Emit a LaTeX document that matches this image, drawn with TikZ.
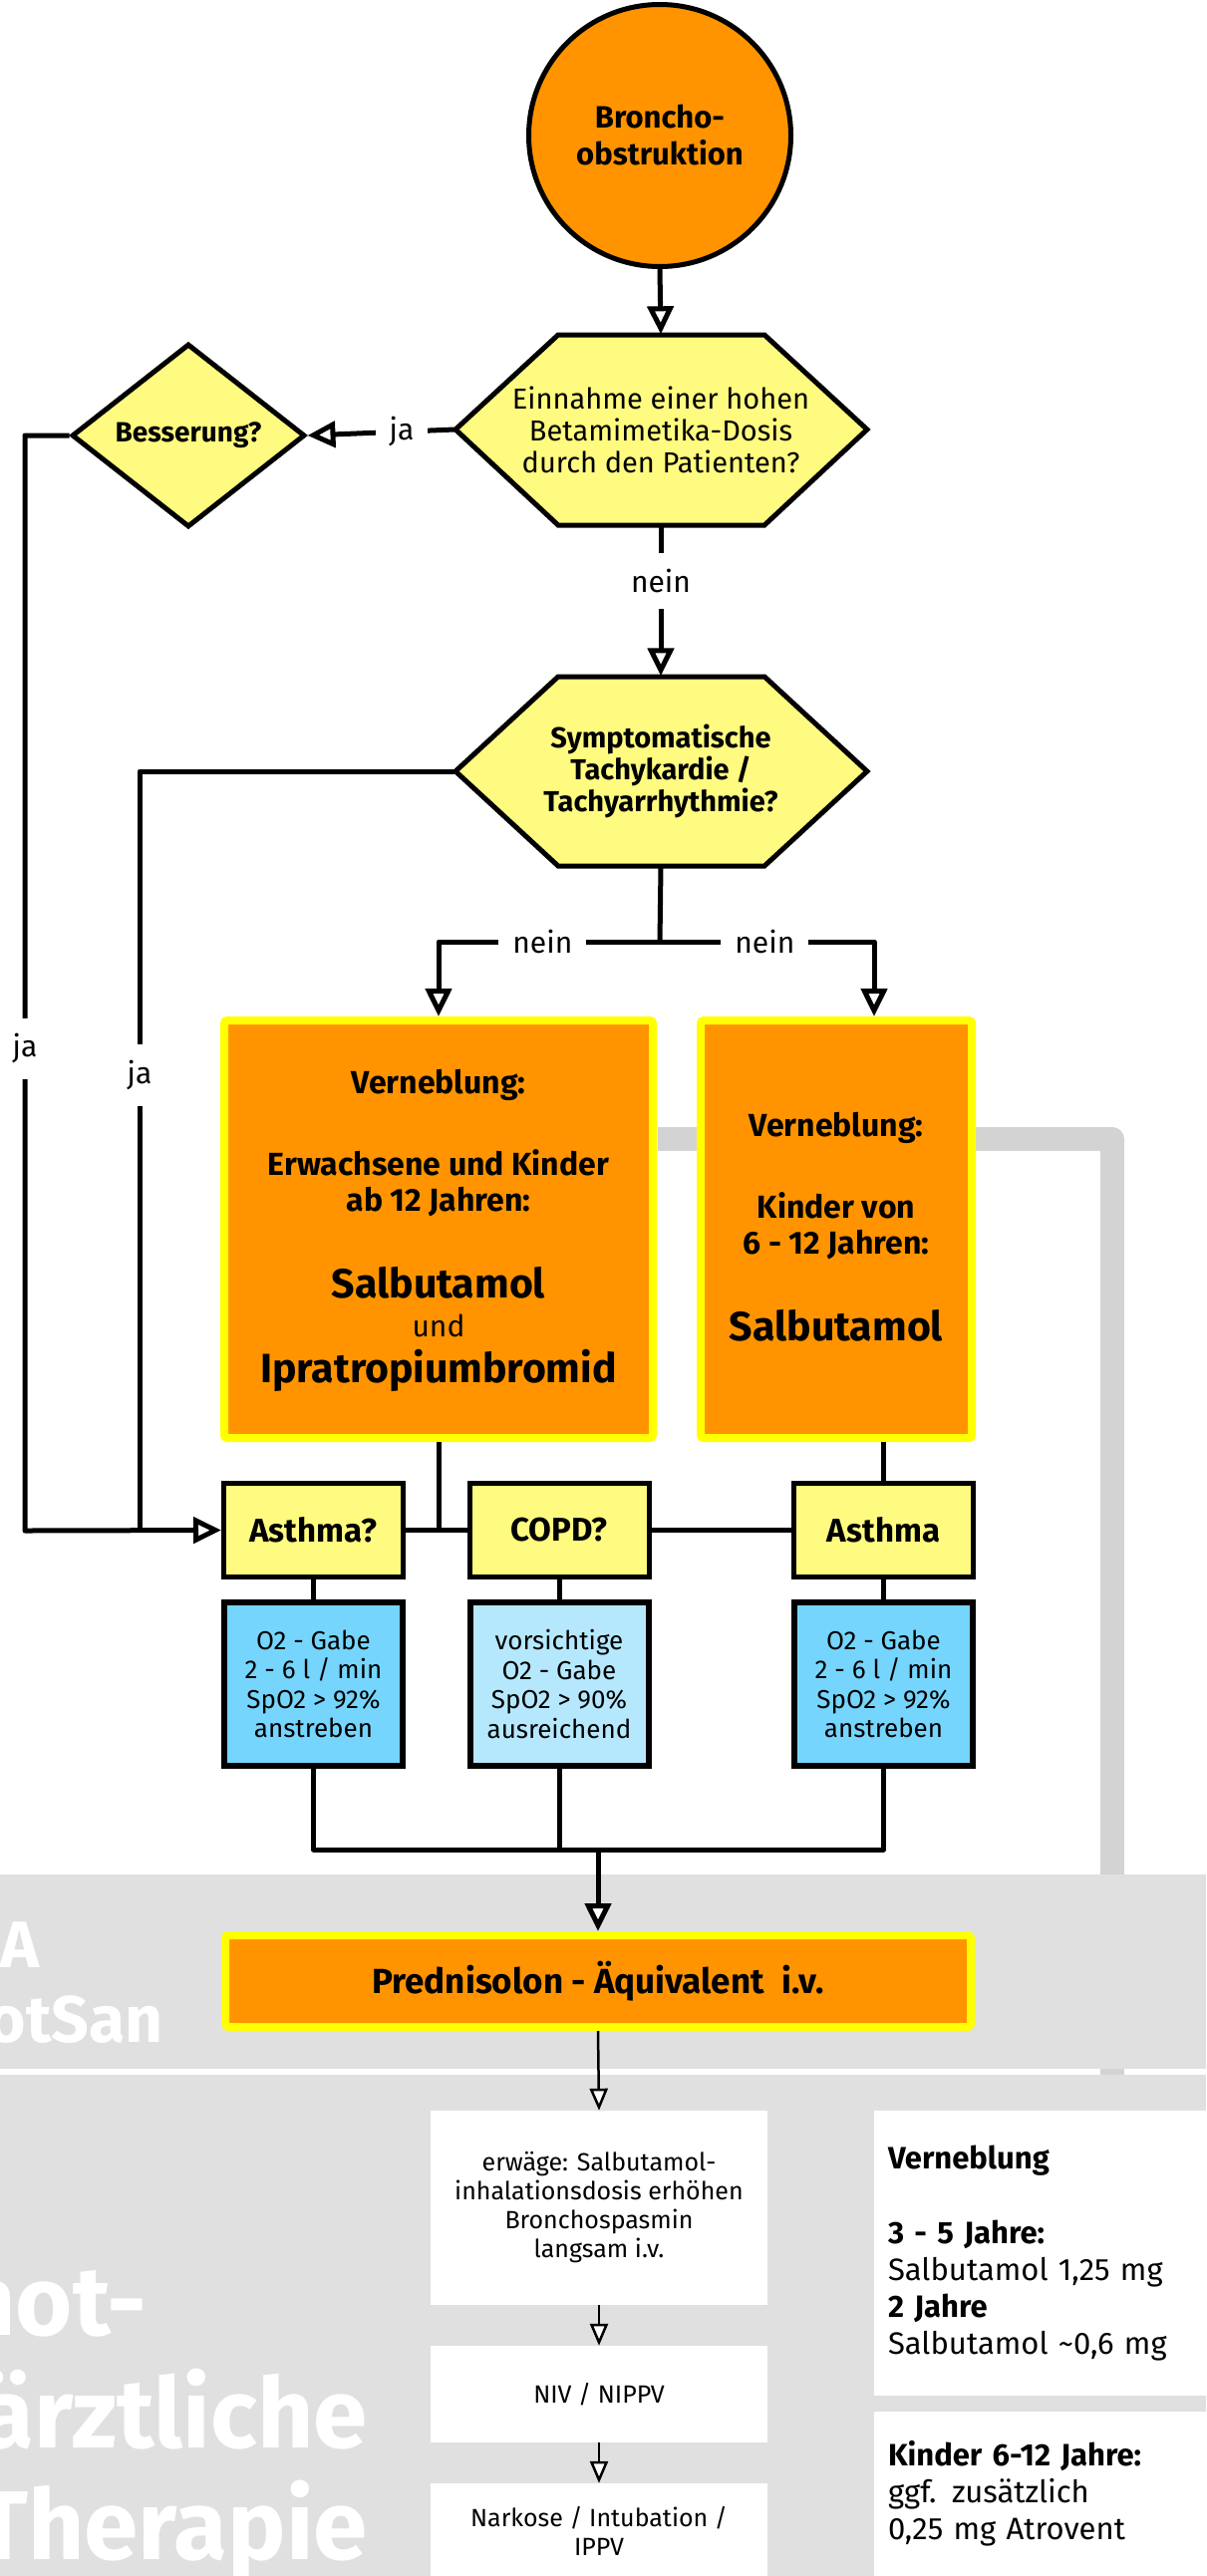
\documentclass[tikz,border=0pt]{standalone}
\usepackage{fontspec}
\setmainfont{Fira Sans}
\usetikzlibrary{arrows.meta,shapes.geometric}

\definecolor{bronchoorange}{HTML}{FF9400}
\definecolor{decisionyellow}{HTML}{FFFB80}
\definecolor{frameyellow}{HTML}{FFFF00}
\definecolor{oxygenblue}{HTML}{75D5FD}
\definecolor{oxygenlight}{HTML}{B5E8FD}
\definecolor{bandgray}{HTML}{E0E0E0}
\definecolor{railgray}{HTML}{D3D3D3}

\newcommand{\fsz}[2]{\fontsize{#1}{#2}\selectfont}

\tikzset{
  flow/.style={draw=black, line width=5pt, line join=round},
  flowarrow/.style={flow, -{Triangle[length=28pt,width=26pt,fill=white]}},
  thinarrow/.style={draw=black, line width=2.5pt, -{Triangle[length=22pt,width=18pt,fill=white]}},
  lbl/.style={fill=white, inner xsep=14pt, inner ysep=16pt, font=\fsz{30}{36}},
  hexshape/.style={draw=black, fill=decisionyellow, line width=5pt, line join=miter},
  hextext/.style={minimum width=413pt, minimum height=191pt, align=center, inner sep=0pt},
  orangebox/.style={draw=frameyellow, fill=bronchoorange, line width=8pt, rounded corners=3pt, inner sep=0pt},
  yellowbox/.style={draw=black, fill=decisionyellow, line width=5pt, minimum width=180pt, minimum height=94pt, inner sep=0pt, font=\bfseries\fsz{33}{38}},
  bluebox/.style={draw=black, fill=oxygenblue, line width=6pt, minimum width=179pt, minimum height=164pt, inner sep=0pt, align=center, font=\fsz{26}{29.5}},
  whitebox/.style={fill=white, minimum width=338pt, inner sep=0pt, align=center, font=\fsz{25}{29}},
  notebox/.style={fill=white, minimum width=338pt, text width=310pt, inner xsep=14pt, inner ysep=0pt, align=left, font=\fsz{31}{37}},
  bandtext/.style={text=white, font=\bfseries\fsz{#1}{#1}, anchor=base east, inner sep=0pt},
}

\begin{document}
\begin{tikzpicture}[x=1pt, y=-1pt]
  \useasboundingbox (0,0) rectangle (1210,2585);
  \clip (0,0) rectangle (1210,2585);

  % gray rail behind the boxes and bands
  \draw[railgray, line width=24pt, line join=round] (660,1143) -- (1116,1143) -- (1116,2090);

  % background bands
  \fill[bandgray] (0,1881) rectangle (1210,2076);
  \fill[bandgray] (0,2082) rectangle (1210,2585);
  \node[bandtext=66] (bandA) at (40,1974) {A};
  \node[bandtext=66] (bandB) at (164,2049) {otSan};
  \node[bandtext=98] (bandC) at (147,2343) {not-};
  \node[bandtext=98] (bandD) at (369,2456) {ärztliche};
  \node[bandtext=98] (bandE) at (369,2568) {Therapie};

  % start
  \node[circle, draw=black, fill=bronchoorange, line width=5pt, minimum size=263pt, inner sep=0pt,
        align=center, font=\bfseries\fsz{31}{37}] (start) at (662,136) {Broncho-\\obstruktion};

  % decisions
  \draw[hexshape] (457,431) -- (560,336) -- (767,336) -- (870,431) -- (767,527) -- (560,527) -- cycle;
  \node[hextext, font=\fsz{29}{32}] (einnahme) at (663,431) {Einnahme einer hohen\\Betamimetika-Dosis\\durch den Patienten?};
  \node[diamond, draw=black, fill=decisionyellow, line width=5pt, minimum width=234pt, minimum height=184pt,
        inner sep=0pt, font=\bfseries\fsz{28}{34}] (besserung) at (189,437) {Besserung?};
  \draw[hexshape] (457,774) -- (560,679) -- (767,679) -- (870,774) -- (767,869) -- (560,869) -- cycle;
  \node[hextext, font=\bfseries\fsz{29}{32}] (symptom) at (663,774) {Symptomatische\\Tachykardie /\\Tachyarrhythmie?};

  % nebulisation
  \node[orangebox, minimum width=430pt, minimum height=419pt] (adult) at (440,1233.5) {};
  \node[align=center, font=\bfseries\fsz{32}{36}] (adulttext) at (440,1235)
    {Verneblung:\\[46pt] Erwachsene und Kinder\\ab 12 Jahren:\\[50pt]
     {\fsz{41}{41}Salbutamol}\\[3pt] {\mdseries\fsz{30}{30}und}\\[10pt] {\fsz{41}{41}Ipratropiumbromid}};
  \node[orangebox, minimum width=272pt, minimum height=419pt] (child) at (839,1233.5) {};
  \node[align=center, font=\bfseries\fsz{32}{36}] (childtext) at (839,1231)
    {Verneblung:\\[46pt] Kinder von\\6 - 12 Jahren:\\[49pt] {\fsz{41}{41}Salbutamol}};

  % diagnosis and oxygen
  \node[yellowbox] (asthmaq) at (314.5,1535.5) {Asthma?};
  \node[yellowbox] (copd) at (561,1535.5) {COPD?};
  \node[yellowbox] (asthma) at (886.5,1535.5) {Asthma};
  \node[bluebox] (o2a) at (314.5,1690) {O2 - Gabe\\2 - 6 l / min\\SpO2 > 92\%\\anstreben};
  \node[bluebox, fill=oxygenlight] (o2b) at (561,1690) {vorsichtige\\O2 - Gabe\\SpO2 > 90\%\\ausreichend};
  \node[bluebox] (o2c) at (886.5,1690) {O2 - Gabe\\2 - 6 l / min\\SpO2 > 92\%\\anstreben};

  \node[orangebox, minimum width=748pt, minimum height=92pt, font=\bfseries\fsz{35}{40}] (pred) at (600,1988)
    {Prednisolon - Äquivalent\hspace{18pt}i.v.};

  % emergency physician
  \node[whitebox, minimum height=195pt] (w1) at (601,2215.5) {erwäge: Salbutamol-\\inhalationsdosis erhöhen\\Bronchospasmin\\langsam i.v.};
  \node[whitebox, minimum height=97pt] (w2) at (601,2402.5) {NIV / NIPPV};
  \node[whitebox, minimum height=96pt] (w3) at (601,2540) {Narkose / Intubation /\\IPPV};
  \node[notebox, minimum height=286pt] (dosage) at (1046,2261)
    {\textbf{Verneblung}\\[38pt] \textbf{3 - 5 Jahre:}\\Salbutamol 1,25 mg\\\textbf{2 Jahre}\\Salbutamol \textasciitilde0,6 mg};
  \node[notebox, minimum height=165pt] (atrovent) at (1046,2502.5)
    {\textbf{Kinder 6-12 Jahre:}\\ggf. zusätzlich\\0,25 mg Atrovent};

  % connectors
  \draw[flowarrow] (start.south) -- (einnahme.north);
  \draw[flowarrow] (einnahme.west) -- node[lbl, pos=0.36] {ja} (besserung.east);
  \draw[flowarrow] (einnahme.south) -- node[lbl, pos=0.37] {nein} (symptom.north);
  \coordinate (railL) at (25,1536);
  \coordinate (railR) at (140,1536);
  \draw[flowarrow] (besserung.west) -| node[lbl, pos=0.78] {ja} (railL) -- (asthmaq.west);
  \draw[flow] (symptom.west) -| node[lbl, pos=0.70] {ja} (railR);
  \coordinate (split) at (662,945);
  \draw[flow] (symptom.south) -- (split);
  \draw[flowarrow] (split) -- node[lbl, pos=0.53] {nein} (adult.north |- split) -- (adult.north);
  \draw[flowarrow] (split) -- node[lbl, pos=0.49] {nein} (877,945) -- (877,945 |- child.north);

  \draw[flow] (adult.south) -- (adult.south |- asthmaq.east);
  \draw[flow] (asthmaq.east) -- (copd.west);
  \draw[flow] (copd.east) -- (asthma.west);
  \draw[flow] (asthma.north) -- (asthma.north |- child.south);
  \draw[flow] (asthmaq.south) -- (o2a.north);
  \draw[flow] (copd.south) -- (o2b.north);
  \draw[flow] (asthma.south) -- (o2c.north);

  \coordinate (merge) at (600,1856);
  \draw[flow] (o2a.south) |- (merge);
  \draw[flow] (o2c.south) |- (merge);
  \draw[flow] (o2b.south) -- (o2b.south |- merge);
  \draw[flowarrow] (merge) -- (pred.north);

  \draw[thinarrow] (pred.south) -- (w1.north);
  \draw[thinarrow] (w1.south) -- (w2.north);
  \draw[thinarrow] (w2.south) -- (w3.north);
\end{tikzpicture}
\end{document}
